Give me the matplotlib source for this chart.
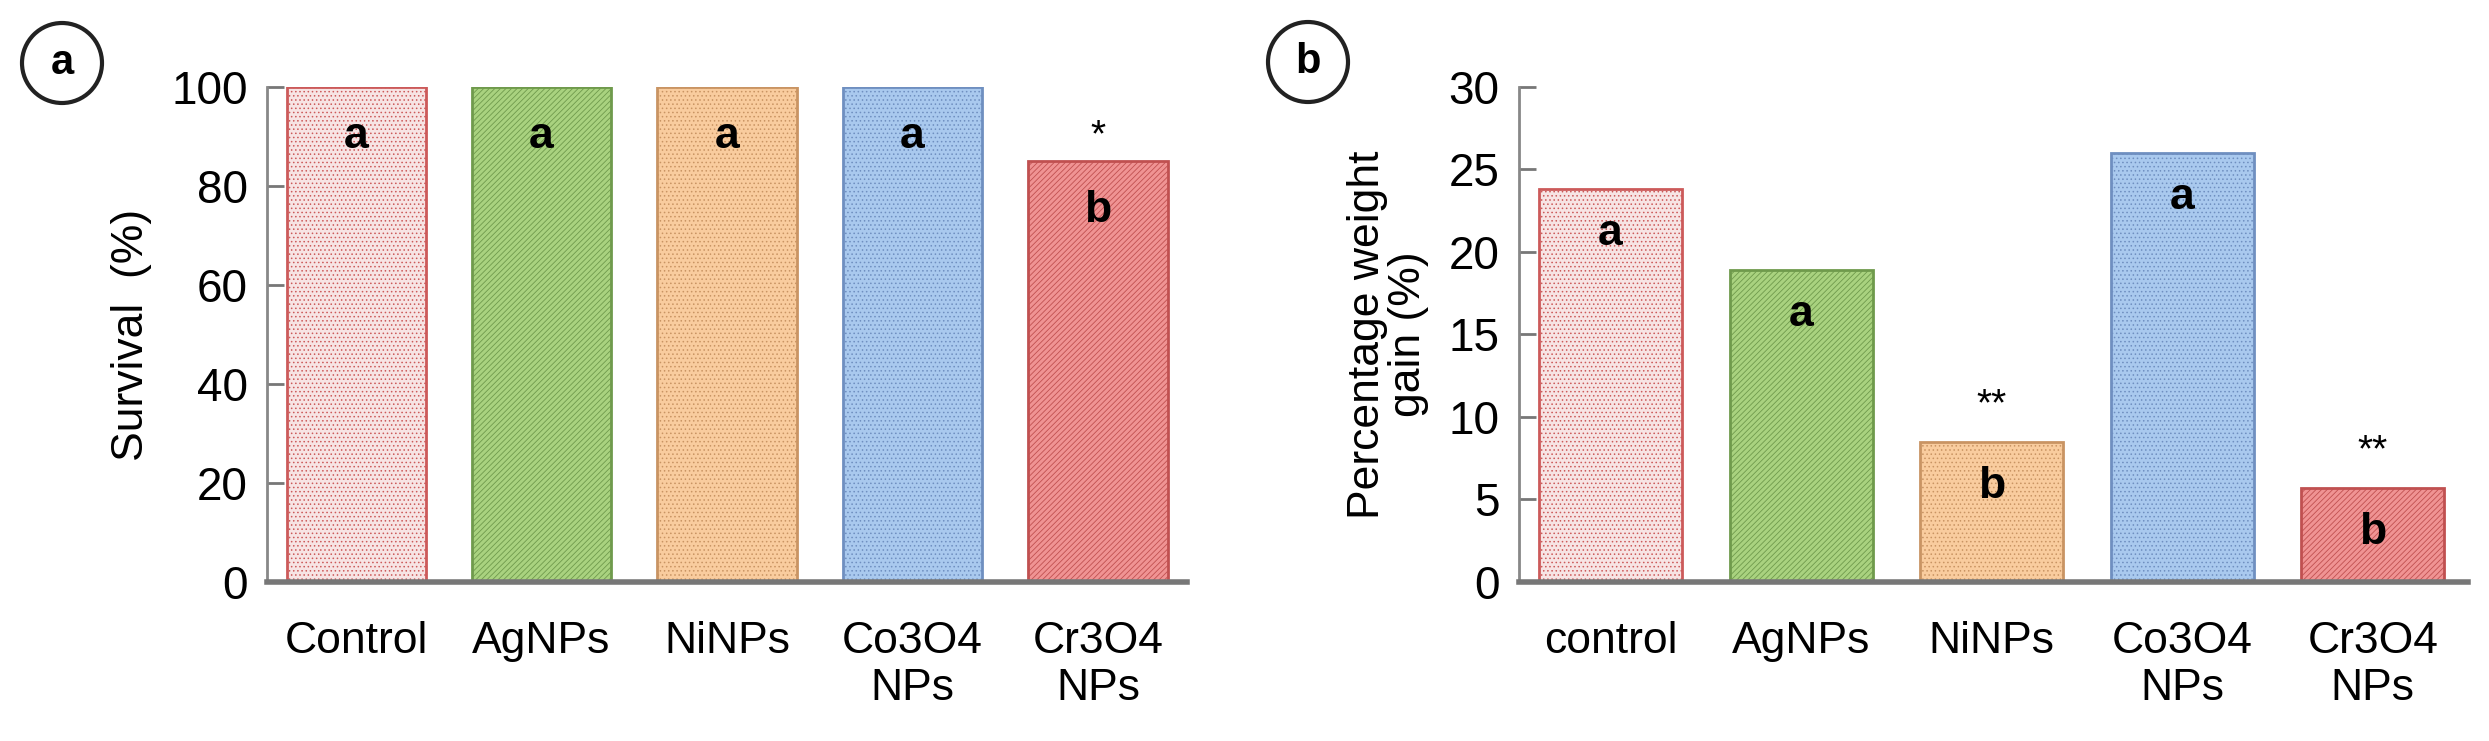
import matplotlib.pyplot as plt
from matplotlib.patches import Ellipse

# ── data ──────────────────────────────────────────────
cats_a = ['Control', 'AgNPs', 'NiNPs', 'Co3O4\nNPs', 'Cr3O4\nNPs']
cats_b = ['control', 'AgNPs', 'NiNPs', 'Co3O4\nNPs', 'Cr3O4\nNPs']
survival = [100, 100, 100, 100, 85]
weight_gain = [23.8, 18.9, 8.5, 26.0, 5.7]
letters_a = ['a', 'a', 'a', 'a', 'b']
letters_b = ['a', 'a', 'b', 'a', 'b']
stars_a = ['', '', '', '', '*']
stars_b = ['', '', '**', '', '**']

faces = ['#f7e4e4', '#a9d27f', '#f9cc9e', '#a9c9ee', '#f09393']
edges = ['#cc5a5a', '#6f9a4c', '#c99463', '#6f8fc0', '#c05050']
hatches = ['....', '//////', '....', '....', '//////']

plt.rcParams['font.family'] = 'Liberation Sans'
plt.rcParams['hatch.linewidth'] = 0.6

fig = plt.figure(figsize=(24.89, 7.41), dpi=100)
ax_a = fig.add_axes([0.1073, 0.2146, 0.3696, 0.668])
ax_b = fig.add_axes([0.6103, 0.2146, 0.3813, 0.668])


def draw(ax, cats, vals, letters, stars, ymax, step, letter_off, star_off, xmax):
    for i, v in enumerate(vals):
        plt.rcParams['hatch.color'] = edges[i]
        ax.bar(i, v, width=0.75, color=faces[i], edgecolor=edges[i],
               hatch=hatches[i], lw=2)
        ax.text(i, v - letter_off, letters[i], ha='center', va='center',
                fontsize=32, fontweight='bold')
        if stars[i]:
            ax.text(i, v + star_off, stars[i], ha='center', va='center',
                    fontsize=28)
    ax.set_xlim(-0.48, xmax)
    ax.set_ylim(0, ymax)
    ax.set_yticks(range(0, ymax + 1, step))
    ax.set_xticks(range(len(cats)))
    ax.set_xticklabels(cats)
    ax.tick_params(axis='y', labelsize=33, length=12, color='#777777',
                   width=2, direction='in', pad=14)
    ax.tick_params(axis='x', labelsize=32, length=0, pad=28)
    for s in ['top', 'right']:
        ax.spines[s].set_visible(False)
    ax.spines['left'].set_color('#888888')
    ax.spines['left'].set_linewidth(2)
    ax.spines['bottom'].set_color('#777777')
    ax.spines['bottom'].set_linewidth(4)


draw(ax_a, cats_a, survival, letters_a, stars_a, 100, 20, 10, 5, 4.48)
ax_a.set_ylabel('Survival  (%)', fontsize=32, labelpad=14)
draw(ax_b, cats_b, weight_gain, letters_b, stars_b, 30, 5, 2.7, 2.2, 4.5)
ax_b.set_ylabel('Percentage weight\ngain (%)', fontsize=32, labelpad=14,
                linespacing=1.0)

for cx, cy, lab in [(62, 63, 'a'), (1308, 62, 'b')]:
    fig.patches.append(Ellipse((cx / 2489, 1 - cy / 741), 80 / 2489, 80 / 741,
                               transform=fig.transFigure, fill=False,
                               lw=3, color='#222222'))
    fig.text(cx / 2489, 1 - cy / 741, lab, ha='center', va='center',
             fontsize=30, fontweight='bold')

fig.savefig('out.png', dpi=100)
